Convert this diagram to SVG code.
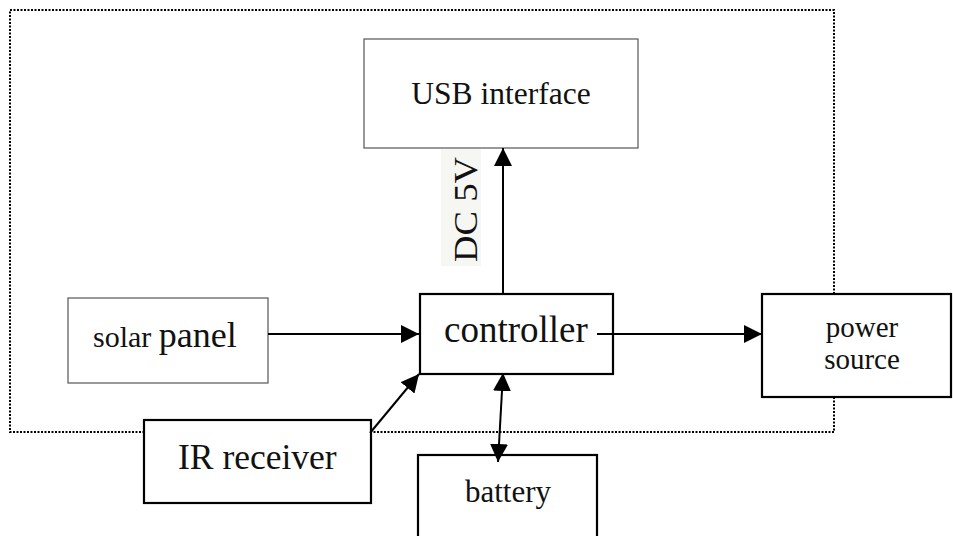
<svg xmlns="http://www.w3.org/2000/svg" width="953" height="536" viewBox="0 0 953 536">
<style>
text{font-family:"Liberation Serif","Times New Roman",serif;fill:#111}
.thin{fill:#fff;stroke:#555;stroke-width:1.2}
.thick{fill:#fff;stroke:#000;stroke-width:2.2}
.conn{stroke:#000;stroke-width:2;fill:none}
</style>
<defs>
<marker id="ah" markerUnits="userSpaceOnUse" markerWidth="18" markerHeight="18" viewBox="0 0 16 16" refX="16" refY="8" orient="auto-start-reverse">
<path d="M0,0 L16,8 L0,16 Z" fill="#000"/>
</marker>
</defs>
<rect id="frame" x="10" y="10" width="824" height="422" fill="none" stroke="#000" stroke-width="2" stroke-dasharray="2 1.5"/>
<g id="usb">
<rect class="thin" x="364" y="39" width="274" height="109"/>
<text x="501" y="104" font-size="31.5" text-anchor="middle">USB interface</text>
</g>
<g id="dc5v">
<rect x="441" y="149" width="40" height="117" fill="#f6f6f3"/>
<text transform="translate(477,262) rotate(-90)" font-size="33" textLength="105" lengthAdjust="spacingAndGlyphs" fill="#222">DC 5V</text>
</g>
<g id="solar">
<rect class="thin" x="68" y="298" width="200" height="85"/>
<text x="93" y="347" font-size="30">solar <tspan font-size="36">panel</tspan></text>
</g>
<g id="controller">
<rect class="thick" x="420" y="294" width="193" height="80"/>
<text x="444" y="342" font-size="37">controller</text>
</g>
<g id="power">
<rect class="thick" x="762" y="294" width="189" height="103"/>
<text x="862" y="337" font-size="29" text-anchor="middle">power</text>
<text x="862" y="369" font-size="29" text-anchor="middle">source</text>
</g>
<g id="ir">
<rect class="thick" x="144" y="420" width="227" height="83"/>
<text x="178" y="469" font-size="35.5">IR receiver</text>
</g>
<g id="battery">
<rect class="thick" x="418" y="455" width="179" height="90"/>
<text x="465" y="502" font-size="31">battery</text>
</g>
<g id="connectors">
<line class="conn" x1="503" y1="294" x2="503" y2="148" marker-end="url(#ah)"/>
<line class="conn" x1="268" y1="334" x2="419" y2="334" marker-end="url(#ah)"/>
<line class="conn" x1="597" y1="334" x2="762" y2="334" marker-end="url(#ah)"/>
<line class="conn" x1="370" y1="433" x2="419" y2="374" marker-end="url(#ah)"/>
<line class="conn" x1="503" y1="373" x2="498" y2="462" marker-start="url(#ah)" marker-end="url(#ah)"/>
</g>
</svg>
